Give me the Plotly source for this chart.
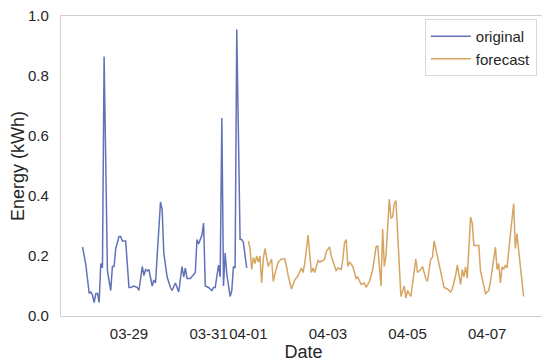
import pandas as pd
import plotly.graph_objects as go

# hours after the first reading, and energy
orig_start = '2021-03-27 20:00'
orig_hours = [0, 2, 4, 5, 6, 7, 8, 9, 10, 11, 12, 13, 15, 17, 18, 19, 20, 22, 23, 24,
              26, 28, 29, 31, 33, 34, 36, 37, 38, 39, 40, 42, 43, 44, 47, 48, 49, 51, 53, 54,
              56, 58, 60, 61, 62, 63, 65, 67, 68, 69, 70, 72, 73, 74, 76, 78, 79, 80, 82, 83,
              84, 85, 86, 87, 89, 90, 91, 92, 93, 95, 96, 97, 99]
orig_energy = [0.23, 0.17, 0.075, 0.08, 0.07, 0.045, 0.075, 0.075, 0.045, 0.175, 0.16, 0.865, 0.15, 0.085, 0.165, 0.165, 0.225, 0.265, 0.265, 0.25,
               0.25, 0.095, 0.095, 0.10, 0.095, 0.085, 0.165, 0.135, 0.155, 0.15, 0.155, 0.10, 0.12, 0.11, 0.38, 0.355, 0.21, 0.13, 0.095, 0.085,
               0.11, 0.08, 0.165, 0.13, 0.16, 0.125, 0.125, 0.14, 0.145, 0.255, 0.24, 0.27, 0.31, 0.10, 0.095, 0.085, 0.095, 0.095, 0.17, 0.13,
               0.66, 0.10, 0.21, 0.14, 0.065, 0.085, 0.165, 0.16, 0.955, 0.255, 0.255, 0.245, 0.16]

fc_start = '2021-04-01 00:00'
fc_hours = [0, 1, 2, 3, 4, 5, 6, 7, 8, 9, 10, 11, 12, 14, 15, 16, 18, 20, 22, 23,
            24, 26, 28, 30, 32, 33, 34, 36, 38, 39, 40, 42, 43, 45, 46, 47, 49, 50, 51, 53,
            54, 56, 57, 58, 59, 60, 61, 63, 65, 66, 68, 70, 71, 73, 75, 77, 78, 80, 81, 82,
            83, 85, 86, 87, 88, 89, 92, 94, 95, 96, 98, 101, 102, 104, 105, 107, 108, 110, 111, 112,
            113, 116, 118, 120, 122, 123, 125, 126, 128, 129, 130, 131, 132, 134, 135, 136, 139, 140, 142, 143,
            145, 146, 149, 150, 151, 152, 153, 154, 155, 156, 158, 160, 161, 162, 163, 166]
fc_energy = [0.25, 0.225, 0.155, 0.195, 0.175, 0.2, 0.18, 0.2, 0.11, 0.19, 0.225, 0.19, 0.165, 0.19, 0.115, 0.14, 0.18, 0.19, 0.19, 0.165,
             0.135, 0.09, 0.12, 0.135, 0.16, 0.145, 0.175, 0.27, 0.145, 0.16, 0.145, 0.185, 0.18, 0.185, 0.19, 0.215, 0.23, 0.2, 0.185, 0.15,
             0.16, 0.155, 0.19, 0.245, 0.255, 0.165, 0.18, 0.165, 0.125, 0.13, 0.105, 0.11, 0.095, 0.115, 0.155, 0.23, 0.235, 0.10, 0.29, 0.165,
             0.2, 0.39, 0.325, 0.33, 0.375, 0.385, 0.065, 0.1, 0.06, 0.085, 0.065, 0.19, 0.145, 0.155, 0.165, 0.125, 0.115, 0.19, 0.195, 0.25,
             0.225, 0.15, 0.095, 0.09, 0.08, 0.09, 0.135, 0.17, 0.105, 0.155, 0.13, 0.165, 0.125, 0.33, 0.31, 0.235, 0.235, 0.15, 0.095, 0.075,
             0.085, 0.115, 0.23, 0.155, 0.175, 0.11, 0.165, 0.155, 0.17, 0.16, 0.27, 0.375, 0.225, 0.275, 0.22, 0.065]

tick_dates = ['2021-03-29', '2021-03-31', '2021-04-01', '2021-04-03', '2021-04-05', '2021-04-07']
tick_labels = ['03-29', '03-31', '04-01', '04-03', '04-05', '04-07']

orig_time = pd.Timestamp(orig_start) + pd.to_timedelta(orig_hours, unit='h')
fc_time = pd.Timestamp(fc_start) + pd.to_timedelta(fc_hours, unit='h')

fig = go.Figure()
fig.add_trace(go.Scatter(x=orig_time, y=orig_energy, mode='lines', name='original',
                         line=dict(color='#6272b8', width=1.5)))
fig.add_trace(go.Scatter(x=fc_time, y=fc_energy, mode='lines', name='forecast',
                         line=dict(color='#d6a562', width=1.5)))

axis_style = dict(showline=True, linecolor='#d0d0d0', linewidth=1.2, mirror=True,
                  showgrid=False, zeroline=False, ticks='', automargin=False,
                  ticklabeloverflow='allow', tickfont=dict(size=15, color='#262626'))

# page body has an 8px margin, so the figure is a bit smaller than the window
fig.update_layout(
    width=542, height=354,
    margin=dict(l=53, r=4, t=8, b=46),
    paper_bgcolor='white', plot_bgcolor='white',
    font=dict(family='Liberation Sans, Arial, sans-serif', color='#262626'),
    legend=dict(x=0.981, y=0.99, xanchor='right', yanchor='top',
                bordercolor='#d9d9d9', borderwidth=1, bgcolor='white',
                itemwidth=40, font=dict(size=15)),
    xaxis=dict(axis_style, range=['2021-03-27 07:00', '2021-04-08 11:30'],
               tickvals=tick_dates, ticktext=tick_labels, tickangle=0, ticklabelstandoff=4,
               title=dict(text='Date', font=dict(size=18), standoff=2)),
    yaxis=dict(axis_style, range=[0, 1.0], dtick=0.2, tickformat='.1f', ticklabelstandoff=8,
               title=dict(text='Energy (kWh)', font=dict(size=18), standoff=1)),
)

fig.write_html('out.html')
